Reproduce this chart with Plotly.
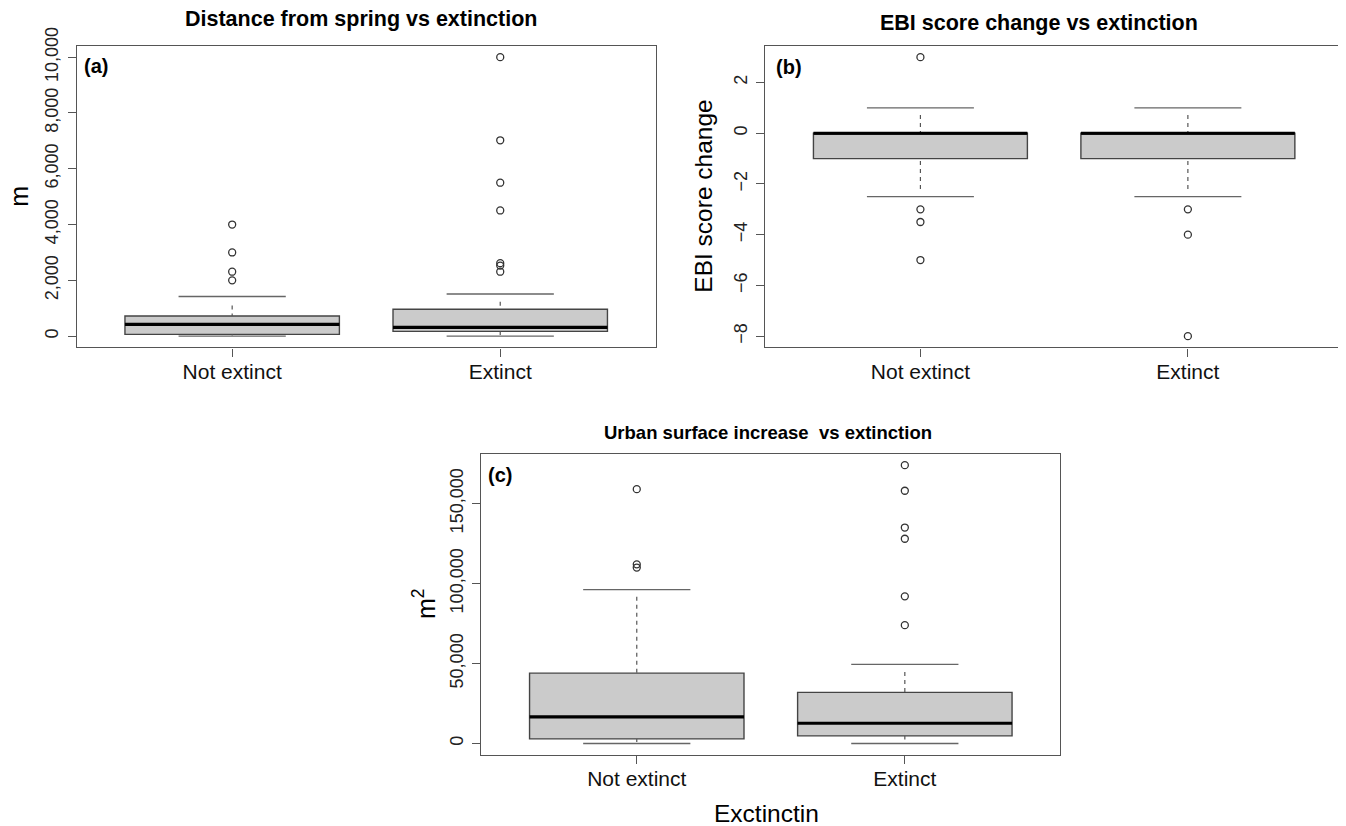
import plotly.graph_objects as go

# ---------------- data ----------------
categories = ["Not extinct", "Extinct"]

# (a) Distance from spring (m)
dist_q1 = [65, 170]
dist_median = [420, 313]
dist_q3 = [720, 965]
dist_whisker_low = [20, 40]
dist_whisker_high = [1100, 1230]
dist_cap_low = [0, 0]
dist_cap_high = [1420, 1510]
dist_outliers = [[2000, 2310, 3000, 4000],
                 [2310, 2530, 2615, 4505, 5500, 7020, 10000]]
dist_ticks = [0, 2000, 4000, 6000, 8000, 10000]

# (b) EBI score change
ebi_q1 = [-1, -1]
ebi_median = [0, 0]
ebi_q3 = [0, 0]
ebi_whisker_low = [-2.2, -2.2]
ebi_whisker_high = [0.72, 0.72]
ebi_cap_low = [-2.5, -2.5]
ebi_cap_high = [1, 1]
ebi_outliers = [[3, -3, -3.5, -5],
                [-3, -4, -8]]
ebi_ticks = [-8, -6, -4, -2, 0, 2]

# (c) Urban surface increase (m2)
urb_q1 = [2900, 4800]
urb_median = [16700, 12700]
urb_q3 = [44000, 32000]
urb_whisker_low = [1000, 2500]
urb_whisker_high = [91800, 44800]
urb_cap_low = [0, 0]
urb_cap_high = [96200, 49500]
urb_outliers = [[110000, 112000, 159000],
                [74000, 92000, 128000, 135000, 158000, 174000]]
urb_ticks = [0, 50000, 100000, 150000]

# ---------------- style ----------------
FONT = "Liberation Sans, Arial, Helvetica, sans-serif"
W, H = 1346, 826
OFF = 8  # page body margin offset
BOX_W = 0.8
CAP_W = 0.4
FRAME = "#555555"


def px_x(v):
    return (v - OFF) / W


def px_y(v):
    return 1 - (v - OFF) / H


fig = go.Figure()
positions = [i + 1 for i in range(len(categories))]


def add_panel(ax, q1, med, q3, wlo, whi, clo, chi, outs):
    xa, ya = "x" + ax, "y" + ax
    fig.add_trace(go.Box(
        x=positions, q1=q1, median=med, q3=q3, lowerfence=q1, upperfence=q3,
        width=BOX_W, fillcolor="#cbcbcb", line=dict(color="#444444", width=1.4),
        whiskerwidth=0, boxpoints=False, xaxis=xa, yaxis=ya, hoverinfo="skip"))
    # dashed whiskers
    wx, wy = [], []
    for p, a, b, c, d in zip(positions, wlo, q1, whi, q3):
        wx += [p, p, None, p, p, None]
        wy += [a, b, None, c, d, None]
    fig.add_trace(go.Scatter(x=wx, y=wy, mode="lines", xaxis=xa, yaxis=ya,
                             line=dict(color="#555555", width=1.2, dash="4px,4px"),
                             hoverinfo="skip"))
    # caps
    cx, cy = [], []
    for p, a, b in zip(positions, clo, chi):
        cx += [p - CAP_W / 2, p + CAP_W / 2, None, p - CAP_W / 2, p + CAP_W / 2, None]
        cy += [a, a, None, b, b, None]
    fig.add_trace(go.Scatter(x=cx, y=cy, mode="lines", xaxis=xa, yaxis=ya,
                             line=dict(color="#666666", width=1.4), hoverinfo="skip"))
    # medians
    mx, my = [], []
    for p, m in zip(positions, med):
        mx += [p - BOX_W / 2, p + BOX_W / 2, None]
        my += [m, m, None]
    fig.add_trace(go.Scatter(x=mx, y=my, mode="lines", xaxis=xa, yaxis=ya,
                             line=dict(color="#000000", width=3.2), hoverinfo="skip"))
    # outliers
    for p, o in zip(positions, outs):
        fig.add_trace(go.Scatter(x=[p] * len(o), y=o, mode="markers", xaxis=xa, yaxis=ya,
                                 marker=dict(symbol="circle-open", size=7, color="#333333",
                                             line=dict(width=1.3, color="#333333")),
                                 hoverinfo="skip"))


add_panel("", dist_q1, dist_median, dist_q3, dist_whisker_low, dist_whisker_high,
          dist_cap_low, dist_cap_high, dist_outliers)
add_panel("2", ebi_q1, ebi_median, ebi_q3, ebi_whisker_low, ebi_whisker_high,
          ebi_cap_low, ebi_cap_high, ebi_outliers)
add_panel("3", urb_q1, urb_median, urb_q3, urb_whisker_low, urb_whisker_high,
          urb_cap_low, urb_cap_high, urb_outliers)


def xaxis(dom):
    return dict(domain=dom, range=[0.42, 2.58], tickvals=positions, ticktext=categories,
                ticks="outside", ticklen=8, tickcolor=FRAME, tickwidth=1.3,
                showline=True, mirror=True, linecolor=FRAME, linewidth=1.4,
                showgrid=False, zeroline=False, automargin=False, ticklabelstandoff=-3,
                tickfont=dict(family=FONT, size=21, color="#111111"))


def yaxis(dom, rng, tickvals, fmt):
    return dict(domain=dom, range=rng, tickvals=tickvals, tickformat=fmt, tickangle=-90,
                ticks="outside", ticklen=8, tickcolor=FRAME, tickwidth=1.3,
                showline=True, mirror=True, linecolor=FRAME, linewidth=1.4,
                showgrid=False, zeroline=False, automargin=False, ticklabelstandoff=2,
                tickfont=dict(family=FONT, size=18, color="#222222"))


ya_dom = [px_y(347.3), px_y(46)]
yc_dom = [px_y(754.7), px_y(454)]

fig.update_layout(
    width=W, height=H, margin=dict(l=0, r=0, t=0, b=0),
    paper_bgcolor="white", plot_bgcolor="white", showlegend=False,
    xaxis=xaxis([px_x(76.7), px_x(655.7)]),
    yaxis=yaxis(ya_dom, [-400, 10400], dist_ticks, ",d"),
    xaxis2=xaxis([px_x(765.3), px_x(1343)]),
    yaxis2=yaxis(ya_dom, [-8.44, 3.44], ebi_ticks, "d"),
    xaxis3=xaxis([px_x(481.3), px_x(1060.3)]),
    yaxis3=yaxis(yc_dom, [-6960, 180960], urb_ticks, ",d"),
)
fig.layout.yaxis2.anchor = "x2"
fig.layout.xaxis2.anchor = "y2"
fig.layout.yaxis3.anchor = "x3"
fig.layout.xaxis3.anchor = "y3"

ann = []


def text(t, x, y, size, bold=False, angle=0, xanchor="center", yanchor="middle"):
    ann.append(dict(text=("<b>%s</b>" % t) if bold else t, x=px_x(x), y=px_y(y),
                    xref="paper", yref="paper", showarrow=False, textangle=angle,
                    xanchor=xanchor, yanchor=yanchor,
                    font=dict(family=FONT, size=size, color="#000000")))


text("Distance from spring vs extinction", 361, 19.5, 21.5, bold=True)
text("EBI score change vs extinction", 1039, 22.7, 21.5, bold=True)
text("Urban surface increase  vs extinction", 768, 432, 18.5, bold=True)
text("(a)", 82, 66, 20, bold=True, xanchor="left")
text("(b)", 774, 66.5, 20, bold=True, xanchor="left")
text("(c)", 486, 475, 20, bold=True, xanchor="left")
text("m", 19, 196.7, 25, angle=-90)
text("EBI score change", 704, 196.7, 24.5, angle=-90)
text("m<sup>2</sup>", 424, 604, 25, angle=-90)
text("Exctinctin", 766, 813, 24.5)
fig.update_layout(annotations=ann)

fig.write_html("out.html")
